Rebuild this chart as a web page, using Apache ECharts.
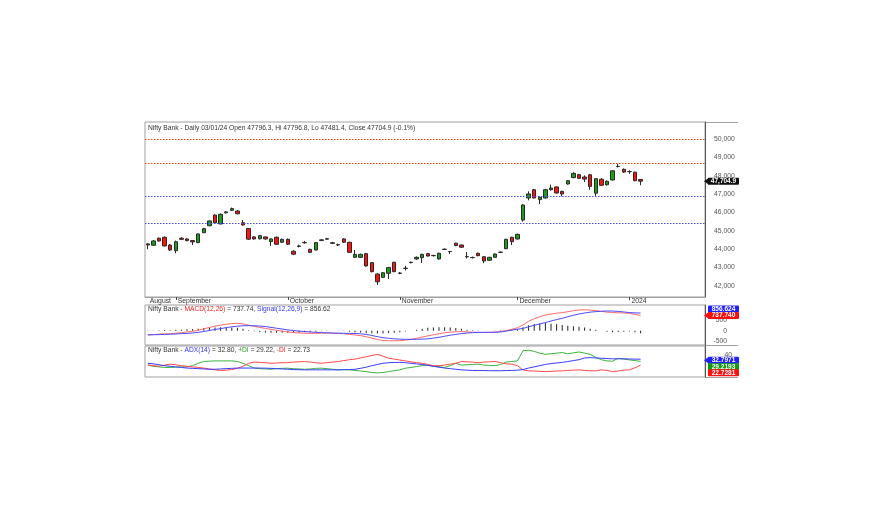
<!DOCTYPE html>
<html><head><meta charset="utf-8">
<script src="https://cdn.jsdelivr.net/npm/echarts@6/dist/echarts.min.js"></script>
<style>html,body{margin:0;padding:0;background:#fff}#c{width:880px;height:524px}</style>
</head><body><div id="c"></div><script>
const dates = [
'2023-08-25','2023-08-28','2023-08-29','2023-08-30','2023-08-31',
'2023-09-01','2023-09-04','2023-09-05','2023-09-06','2023-09-07','2023-09-08','2023-09-11','2023-09-12','2023-09-13','2023-09-14','2023-09-15','2023-09-18','2023-09-20','2023-09-21','2023-09-22','2023-09-25','2023-09-26','2023-09-27','2023-09-28','2023-09-29',
'2023-10-03','2023-10-04','2023-10-05','2023-10-06','2023-10-09','2023-10-10','2023-10-11','2023-10-12','2023-10-13','2023-10-16','2023-10-17','2023-10-18','2023-10-19','2023-10-20','2023-10-23','2023-10-25','2023-10-26','2023-10-27','2023-10-30','2023-10-31',
'2023-11-01','2023-11-02','2023-11-03','2023-11-06','2023-11-07','2023-11-08','2023-11-09','2023-11-10','2023-11-12','2023-11-13','2023-11-15','2023-11-16','2023-11-17','2023-11-20','2023-11-21','2023-11-22','2023-11-23','2023-11-24','2023-11-28','2023-11-29','2023-11-30',
'2023-12-01','2023-12-04','2023-12-05','2023-12-06','2023-12-07','2023-12-08','2023-12-11','2023-12-12','2023-12-13','2023-12-14','2023-12-15','2023-12-18','2023-12-19','2023-12-20','2023-12-21','2023-12-22','2023-12-26','2023-12-27','2023-12-28','2023-12-29',
'2024-01-01','2024-01-02','2024-01-03'];
const opens = [44290,44215,44600,44650,44230,43920,44600,44560,44470,44360,44900,45280,45860,45380,45980,46120,46080,45440,45130,44670,44570,44670,44420,44650,44380,44540,43890,44150,44350,43990,43960,44480,44570,44350,44250,44560,44380,43560,43560,43760,43270,42650,42470,42690,43290,42700,42950,43270,43470,43540,43760,43660,43470,43990,43880,44330,44230,43600,43550,43780,43590,43400,43560,43830,44030,44650,44560,45590,46790,47240,46700,46790,47240,47390,47150,47550,47900,48060,47930,48050,47050,47810,47510,47770,48500,48350,48220,48190,47796.3];
const closes = [44230,44450,44450,44180,43960,44410,44540,44470,44400,44830,45120,45540,45440,45900,46030,46210,45930,45320,44550,44560,44740,44560,44560,44270,44540,44270,43730,44180,44370,43830,44360,44510,44550,44320,44230,44380,43830,43720,43720,43090,42780,42230,42720,43000,42780,42690,42970,43290,43560,43720,43630,43650,43780,44000,43870,44200,44110,43590,43540,43650,43360,43560,43740,43840,44540,44410,44810,46410,47010,46790,46830,47240,47330,47060,47010,47730,48130,47860,47820,47420,47840,47480,47700,48270,48510,48200,48230,47730,47704.9];
const highs = [44330,44500,44640,44700,44280,44470,44650,44600,44500,44870,45160,45570,45900,45950,46080,46270,46130,45590,45150,44720,44770,44700,44590,44690,44580,44590,43950,44250,44450,44030,44400,44560,44620,44400,44300,44600,44400,43960,43760,43800,43300,42690,42760,43040,43320,42760,43100,43330,43610,43760,43800,43700,43810,44040,43900,44360,44260,43850,43600,43820,43620,43590,43770,43880,44570,44680,44850,46450,47150,47280,46860,47290,47510,47420,47180,47760,48190,48100,48020,48100,47860,47870,47750,48300,48640,48400,48300,48220,47796.8];
const lows = [44000,44180,44420,44150,43900,43780,44500,44430,44230,44330,44870,45250,45400,45350,45950,46080,45900,45290,44500,44520,44530,44520,44180,44240,44350,44230,43680,44100,44300,43800,43930,44440,44520,44280,44180,44350,43800,43530,43520,43050,42740,42060,42430,42380,42750,42640,42840,43230,43420,43250,43600,43600,43440,43960,43740,44170,44080,43500,43500,43620,43240,43370,43540,43790,44000,44230,44530,45500,46660,46760,46460,46760,47190,47030,46880,47520,47860,47830,47660,47240,46900,47450,47460,47740,48450,48150,48100,47700,47481.4];
const resistanceLevels = [50000, 48656];
const supportLevels = [46882, 45410];
const priceTicks = [42000,43000,44000,45000,46000,47000,48000,49000,50000];

const macdLine = [-210,-190,-170,-150,-150,-120,-95,-60,-30,20,90,160,220,270,310,345,360,330,270,210,160,110,60,20,-20,-60,-90,-110,-120,-130,-130,-120,-115,-120,-130,-140,-180,-210,-240,-290,-360,-430,-470,-485,-490,-485,-460,-420,-370,-310,-250,-200,-150,-100,-70,-50,-45,-60,-75,-80,-85,-80,-70,-40,10,70,140,280,460,580,680,760,810,850,875,920,970,1005,1015,1000,975,940,900,880,870,860,840,790,737.74];
const signalLine = [-200,-195,-190,-180,-170,-160,-145,-130,-110,-80,-40,10,60,100,150,190,220,240,245,240,225,200,160,120,80,40,10,-20,-40,-60,-80,-95,-105,-115,-120,-125,-130,-135,-150,-180,-230,-290,-340,-370,-395,-410,-418,-420,-418,-410,-395,-360,-320,-270,-220,-180,-140,-110,-95,-85,-80,-78,-78,-60,-20,30,70,110,190,260,330,390,470,540,600,680,750,810,860,900,925,945,955,955,935,910,880,865,856.624];
const macdHist = [-10,5,20,30,20,40,50,70,80,100,130,150,160,170,160,155,140,90,25,-30,-65,-90,-100,-100,-100,-100,-100,-90,-80,-70,-50,-25,-10,-5,-10,-15,-50,-75,-90,-110,-130,-140,-130,-115,-95,-75,-42,0,48,100,145,160,170,170,150,130,95,50,20,5,-5,-2,8,20,30,40,70,170,270,320,350,370,340,310,275,240,220,195,155,100,50,-5,-55,-75,-65,-50,-40,-75,-119];
const macdTicks = [-500, 0, 500];

const adxLine = [26,25,23.5,22,21,20,19,18,17.5,17,16.5,16,16,16.5,17,17.5,18,18,18,18,18,17.8,17.5,17,16.5,16,15.5,15.2,15,15,15,15,15,15,15,15.2,15.5,16,17.5,19.5,22,24,26,27,27.5,27.5,27,26,25,24,22.5,21,19.5,18,17,16,15,14.5,14,14,13.8,13.6,13.5,13.5,13.8,14,14.5,15.5,18,20,22,24,25.5,26.5,27.5,29,30.5,32,35,35.5,35,34.5,34,33.5,33.5,33.5,33.2,33,32.7971];
const plusDI = [23,21,20,19,19,19.5,20,20,22,26,29,29.5,30,30,30,30,29,26,22,18,17,16.5,16,17,17.5,17.8,17,16.5,16,16.5,17.5,17.8,17,16,15,15.5,15,14,13,12,10.5,10,10.5,12,13.5,15,17.8,19,20.5,22,23,21,20,19,22,26,23,23.5,24,24.5,23,22.5,22,24,28,29,30,47,48,46,43,41,42,43,44,42,43.5,45,43,41,36,32,30,29.5,34.5,33,31.7,30.5,29.2193];
const minusDI = [23,22,21,23,24.5,23.5,22,21,20,19,18,16.5,15,14,14.5,15.5,17.5,21,26,28,27.5,27,26,26.5,27,27,28,28.5,29,28,27,26,27,28,29,30.5,32,33,35,37,39,41,38,34.5,33,31.5,30,28.5,27,26,24,22,22,23,24.5,26,29,28.5,28,27,28,28.5,29,27,25,24.5,22,15,13.3,13,12.5,12,12.5,13,13.3,14,14.5,15,14,13.5,13.3,15,14,12,13,14.5,15,18.5,22.7281];
const adxTicks = [40];

const FONT = 'Liberation Sans, Arial, sans-serif';
const N = dates.length;
const PAD = 11;
const cats = dates.concat(Array.from({length: PAD}, (_, k) => 'pad' + k));
const monthNames = ['January','February','March','April','May','June','July','August','September','October','November','December'];
const isMonthStart = i => i < N && (i === 0 || dates[i].slice(0,7) !== dates[i-1].slice(0,7));
const candleData = dates.map((d, i) => [opens[i], closes[i], lows[i], highs[i]]);

const chart = echarts.init(document.getElementById('c'));
const gridBase = {show: true, borderColor: '#a0a0a0', borderWidth: 1, backgroundColor: '#fff', containLabel: false, outerBoundsMode: 'none'};
const xBase = (gi) => ({type: 'category', gridIndex: gi, data: cats, boundaryGap: true,
  axisLine: {show: false}, axisTick: {show: false}, axisLabel: {show: false}, splitLine: {show: false}});
const levelLine = (vals, color) => ({type: 'line', xAxisIndex: 0, yAxisIndex: 0, data: [], symbol: 'none', silent: true,
  markLine: {silent: true, symbol: 'none', label: {show: false}, animation: false, precision: 0,
    lineStyle: {color: color, type: [1.5, 1.5], width: 1.2, opacity: 1},
    data: vals.map(v => ({yAxis: v}))}});

const option = {
  animation: false,
  backgroundColor: '#fff',
  grid: [
    Object.assign({left: 145, top: 122, width: 560, height: 175}, gridBase),
    Object.assign({left: 145, top: 305, width: 560, height: 40}, gridBase),
    Object.assign({left: 145, top: 346, width: 560, height: 31}, gridBase)
  ],
  xAxis: [
    {type: 'category', gridIndex: 0, data: cats, boundaryGap: true,
     axisLine: {show: true, lineStyle: {color: '#a0a0a0'}},
     axisTick: {show: true, alignWithLabel: true, length: 3, lineStyle: {color: '#444'},
       interval: (i) => i > 0 && isMonthStart(i)},
     axisLabel: {show: true, interval: (i) => isMonthStart(i), align: 'left', margin: 1,
       padding: [0, 0, 0, 2], fontSize: 6.8, fontFamily: FONT, color: '#333',
       formatter: (v) => { const m = +v.slice(5,7); return m === 1 ? v.slice(0,4) : monthNames[m-1]; }},
     splitLine: {show: false}},
    xBase(1), xBase(2)
  ],
  yAxis: [
    {type: 'value', gridIndex: 0, position: 'right', min: 41400, max: 50925, scale: true,
     axisLine: {show: true, lineStyle: {color: '#555'}}, axisTick: {show: false}, splitLine: {show: false},
     axisLabel: {customValues: priceTicks, margin: 9, fontSize: 6.8, fontFamily: FONT, color: '#555',
       formatter: v => v.toLocaleString('en-US')}},
    {type: 'value', gridIndex: 1, position: 'right', min: -694, max: 1247,
     axisLine: {show: true, lineStyle: {color: '#555'}}, axisTick: {show: false}, splitLine: {show: false},
     axisLabel: {customValues: macdTicks, align: 'right', margin: 22, fontSize: 6.8, fontFamily: FONT, color: '#555'}},
    {type: 'value', gridIndex: 2, position: 'right', min: 3, max: 55,
     axisLine: {show: true, lineStyle: {color: '#555'}}, axisTick: {show: false}, splitLine: {show: false},
     axisLabel: {customValues: adxTicks, align: 'right', margin: 27, fontSize: 6.8, fontFamily: FONT, color: '#555'}}
  ],
  series: [
    levelLine(resistanceLevels, '#ff3a1a'),
    levelLine(supportLevels, '#4a4aff'),
    {type: 'candlestick', xAxisIndex: 0, yAxisIndex: 0, data: candleData, barWidth: 4,
     itemStyle: {color: '#1c9c1c', color0: '#ff1010', borderColor: '#2a2a2a', borderColor0: '#2a2a2a', borderWidth: 1}},
    {type: 'bar', xAxisIndex: 1, yAxisIndex: 1, data: macdHist, barWidth: 1, itemStyle: {color: '#222'}},
    {type: 'line', xAxisIndex: 1, yAxisIndex: 1, data: macdLine, symbol: 'none', lineStyle: {color: '#ff6a6a', width: 1}},
    {type: 'line', xAxisIndex: 1, yAxisIndex: 1, data: signalLine, symbol: 'none', lineStyle: {color: '#4b4bff', width: 1}},
    {type: 'line', xAxisIndex: 2, yAxisIndex: 2, data: plusDI, symbol: 'none', lineStyle: {color: '#3cb43c', width: 1}},
    {type: 'line', xAxisIndex: 2, yAxisIndex: 2, data: minusDI, symbol: 'none', lineStyle: {color: '#ff4a4a', width: 1}},
    {type: 'line', xAxisIndex: 2, yAxisIndex: 2, data: adxLine, symbol: 'none', lineStyle: {color: '#3a3aff', width: 1}}
  ]
};
chart.setOption(option);

// titles built from data
const last = N - 1;
const d = dates[last];
const dateStr = d.slice(8,10) + '/' + d.slice(5,7) + '/' + d.slice(2,4);
const pct = ((closes[last] - closes[last-1]) / closes[last-1] * 100).toFixed(1);
const mainTitle = 'Nifty Bank - Daily ' + dateStr + ' Open ' + opens[last] + ', Hi ' + highs[last] + ', Lo ' + lows[last] + ', Close ' + closes[last] + ' (' + pct + '%)';
const rs = (c) => ({fill: c, fontSize: 6.7, fontFamily: FONT});
const macdTitle = '{a|Nifty Bank - }{r|MACD(12,26)}{a| = ' + macdLine[last].toFixed(2) + ', }{b|Signal(12,26,9)}{a| = ' + signalLine[last].toFixed(2) + '}';
const adxTitle = '{a|Nifty Bank - }{b|ADX(14)}{a| = ' + adxLine[last].toFixed(2) + ', }{g|+DI}{a| = ' + plusDI[last].toFixed(2) + ', }{r|-DI}{a| = ' + minusDI[last].toFixed(2) + '}';
const richSet = {a: rs('#333'), r: rs('#ff2020'), b: rs('#3030ff'), g: rs('#22a022')};

function tag(axisIdx, value, text, bg, dy, arrow) {
  const y = chart.convertToPixel({yAxisIndex: axisIdx}, value) + dy;
  const x0 = 706, w = 31, h = 7;
  const els = [];
  if (arrow) els.push({type: 'polygon', shape: {points: [[704, y], [x0 + 3, y - h/2], [x0 + 3, y + h/2]]}, style: {fill: bg}, z: 100});
  els.push({type: 'rect', shape: {x: x0 + 2, y: y - h/2, width: w, height: h, r: 1}, style: {fill: bg}, z: 100});
  els.push({type: 'text', x: x0 + 2 + w/2, y: y, style: {text: text, fill: '#fff', font: 'bold 6.5px ' + FONT, align: 'center', verticalAlign: 'middle'}, z: 101});
  return els;
}
const fmt = v => v.toLocaleString('en-US', {minimumFractionDigits: 1, maximumFractionDigits: 1});
const graphics = [
  {type: 'line', shape: {x1: 705, y1: 122.5, x2: 738, y2: 122.5}, style: {stroke: '#a0a0a0', lineWidth: 1}},
  {type: 'line', shape: {x1: 705, y1: 345.5, x2: 738, y2: 345.5}, style: {stroke: '#a0a0a0', lineWidth: 1}},
  {type: 'line', shape: {x1: 705, y1: 377.5, x2: 738, y2: 377.5}, style: {stroke: '#a0a0a0', lineWidth: 1}},
  {type: 'text', x: 148, y: 128, style: {text: mainTitle, fill: '#333', font: '6.7px ' + FONT, verticalAlign: 'middle'}},
  {type: 'text', x: 148, y: 309.5, style: {text: macdTitle, rich: richSet, font: '6.7px ' + FONT, verticalAlign: 'middle'}},
  {type: 'text', x: 148, y: 350, style: {text: adxTitle, rich: richSet, font: '6.7px ' + FONT, verticalAlign: 'middle'}}
].concat(
  tag(0, closes[last], fmt(closes[last]), '#111', 0, true),
  tag(1, signalLine[last], signalLine[last].toFixed(3), '#2020ff', -4, false),
  tag(1, macdLine[last], macdLine[last].toFixed(3), '#ff1010', 0, true),
  tag(2, adxLine[last], adxLine[last].toFixed(4), '#2020ff', 1, true),
  tag(2, plusDI[last], plusDI[last].toFixed(4), '#119911', 5.5, false),
  tag(2, minusDI[last], minusDI[last].toFixed(4), '#ff1010', 7.5, false)
);
chart.setOption({graphic: graphics});
</script></body></html>
